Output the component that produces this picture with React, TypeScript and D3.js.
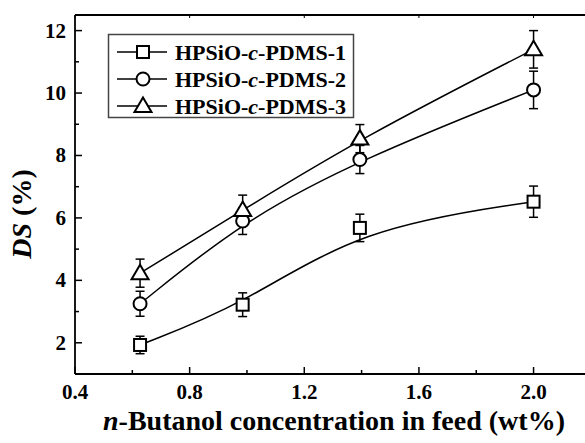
import React from "react";
import * as d3 from "d3";

// Butanol concentration in feed (wt%)
const concentrations = [0.627, 0.985, 1.394, 2.0];

// Degree of swelling (%) and error for each membrane
const pdms1 = [1.93, 3.22, 5.68, 6.52];
const pdms1Err = [0.28, 0.38, 0.44, 0.5];
const pdms2 = [3.25, 5.9, 7.87, 10.1];
const pdms2Err = [0.4, 0.43, 0.45, 0.6];
const pdms3 = [4.23, 6.25, 8.54, 11.4];
const pdms3Err = [0.45, 0.48, 0.45, 0.6];

const seriesNames = ["1", "2", "3"];
const markerKinds = ["square", "circle", "triangle"];

const xMajorTicks = [0.4, 0.8, 1.2, 1.6, 2.0];
const xMinorTicks = [0.6, 1.0, 1.4, 1.8];
const yMajorTicks = [2, 4, 6, 8, 10, 12];
const yMinorTicks = [3, 5, 7, 9, 11];

const W = 585;
const H = 443;
const left = 75;
const top = 15;
const bottom = 374;

const FONT = "'Liberation Serif', 'Times New Roman', serif";

const x = d3.scaleLinear().domain([0.4, 2.1]).range([left, left + 1.7 * 286.6]);
const y = d3.scaleLinear().domain([1, 12.5]).range([bottom, top]);

function Marker({ kind, cx, cy }: { kind: string; cx: number; cy: number }) {
  const common = { fill: "white", stroke: "black", strokeWidth: 2 };
  if (kind === "square") {
    return <rect x={cx - 6} y={cy - 6} width={12} height={12} {...common} />;
  }
  if (kind === "circle") {
    return <circle cx={cx} cy={cy} r={6.5} {...common} />;
  }
  const p = `M${cx},${cy - 8.5} L${cx + 8.5},${cy + 6} L${cx - 8.5},${cy + 6} Z`;
  return <path d={p} {...common} strokeLinejoin="miter" />;
}

export default function App() {
  const series = [
    { values: pdms1, errs: pdms1Err },
    { values: pdms2, errs: pdms2Err },
    { values: pdms3, errs: pdms3Err },
  ];

  const line = d3
    .line<[number, number]>()
    .x((d) => x(d[0]))
    .y((d) => y(d[1]))
    .curve(d3.curveBasis);

  return (
    <svg
      width={W}
      height={H}
      style={{ position: "absolute", left: 0, top: 0, background: "white" }}
      fontFamily={FONT}
    >
      <rect x={0} y={0} width={W} height={H} fill="white" />

      {/* fitted curves */}
      {series.map((s, i) => (
        <path
          key={"l" + i}
          d={line(concentrations.map((c, j) => [c, s.values[j]]) as [number, number][]) || ""}
          fill="none"
          stroke="black"
          strokeWidth={1.5}
        />
      ))}

      {/* error bars */}
      {series.map((s, i) =>
        concentrations.map((c, j) => {
          const cx = x(c);
          const y1 = y(s.values[j] + s.errs[j]);
          const y2 = y(s.values[j] - s.errs[j]);
          return (
            <g key={`e${i}-${j}`} stroke="black" strokeWidth={1.5}>
              <line x1={cx} x2={cx} y1={y1} y2={y2} />
              <line x1={cx - 4.5} x2={cx + 4.5} y1={y1} y2={y1} />
              <line x1={cx - 4.5} x2={cx + 4.5} y1={y2} y2={y2} />
            </g>
          );
        })
      )}

      {/* markers */}
      {series.map((s, i) =>
        concentrations.map((c, j) => (
          <Marker key={`m${i}-${j}`} kind={markerKinds[i]} cx={x(c)} cy={y(s.values[j])} />
        ))
      )}

      {/* axes frame */}
      <g stroke="black" strokeWidth={1.8}>
        <line x1={left} x2={W} y1={bottom} y2={bottom} />
        <line x1={left} x2={W} y1={top} y2={top} />
        <line x1={left} x2={left} y1={top} y2={bottom} />
      </g>

      {/* x ticks (inward) */}
      <g stroke="black" strokeWidth={1.5}>
        {xMajorTicks.map((t) => (
          <line key={"xm" + t} x1={x(t)} x2={x(t)} y1={bottom} y2={bottom - 7} />
        ))}
        {xMinorTicks.map((t) => (
          <line key={"xn" + t} x1={x(t)} x2={x(t)} y1={bottom} y2={bottom - 4} />
        ))}
        {xMajorTicks.map((t) => (
          <line key={"xt" + t} x1={x(t)} x2={x(t)} y1={top} y2={top + 3} strokeWidth={1} />
        ))}
        {yMajorTicks.map((t) => (
          <line key={"ym" + t} x1={left} x2={left + 7} y1={y(t)} y2={y(t)} />
        ))}
        {yMinorTicks.map((t) => (
          <line key={"yn" + t} x1={left} x2={left + 4} y1={y(t)} y2={y(t)} />
        ))}
      </g>

      {/* tick labels */}
      <g fontSize={21} fontWeight="bold" fill="black">
        {xMajorTicks.map((t) => (
          <text key={"xl" + t} x={x(t)} y={399} textAnchor="middle">
            {d3.format(".1f")(t)}
          </text>
        ))}
        {yMajorTicks.map((t) => (
          <text key={"yl" + t} x={66} y={y(t) + 7} textAnchor="end">
            {t}
          </text>
        ))}
      </g>

      {/* axis titles */}
      <text x={334} y={430} textAnchor="middle" fontSize={28} fontWeight="bold">
        <tspan fontStyle="italic">n</tspan>-Butanol concentration in feed (wt%)
      </text>
      <text
        transform="translate(31,214) rotate(-90)"
        textAnchor="middle"
        fontSize={28}
        fontWeight="bold"
      >
        <tspan fontStyle="italic">DS</tspan> (%)
      </text>

      {/* legend */}
      <rect x={108.5} y={34.5} width={245} height={83} fill="white" stroke="#444" strokeWidth={1.5} />
      {seriesNames.map((n, i) => {
        const ly = 52 + i * 27;
        return (
          <g key={"lg" + n}>
            <line x1={117} x2={167} y1={ly} y2={ly} stroke="black" strokeWidth={1.5} />
            <Marker kind={markerKinds[i]} cx={143} cy={ly} />
            <text x={175} y={ly + 7.5} fontSize={22} fontWeight="bold">
              HPSiO-<tspan fontStyle="italic">c</tspan>-PDMS-{n}
            </text>
          </g>
        );
      })}
    </svg>
  );
}
